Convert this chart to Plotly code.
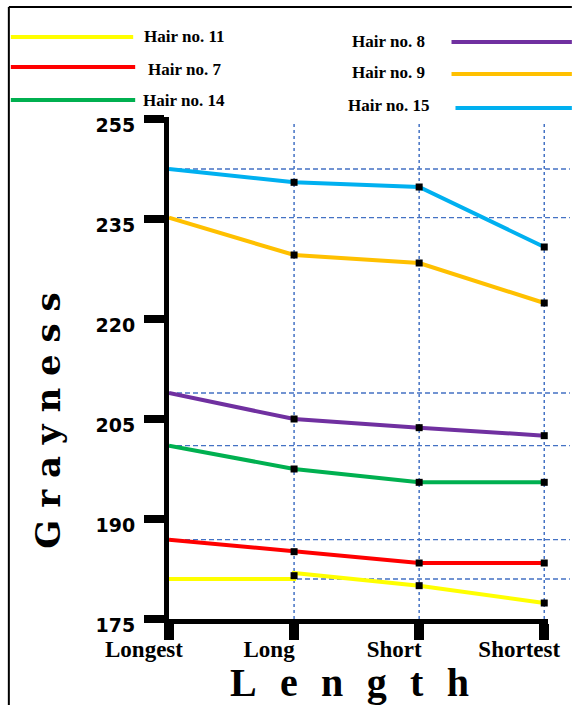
import plotly.graph_objects as go

# ---- data ----
lengths = ["Longest", "Long", "Short", "Shortest"]
x_pos = [0, 1, 2, 3]

hair_11 = [181.0, 181.0, 181.9, 180.0, 177.4]   # small step at "Long"
hair_11_x = [0, 1, 1, 2, 3]
hair_7 = [186.9, 185.1, 183.4, 183.4]
hair_14 = [201.0, 197.5, 195.5, 195.5]
hair_8 = [208.9, 205.0, 203.7, 202.5]
hair_9 = [235.2, 229.6, 228.4, 222.4]
hair_15 = [242.5, 240.5, 239.8, 230.8]

marker_11 = [181.0, 181.5, 180.0, 177.4]

ytick_vals = [175, 190, 205, 220, 235, 250]
ytick_text = ["175", "190", "205", "220", "235", "255"]

names = ["Hair no. 11", "Hair no. 7", "Hair no. 14", "Hair no. 8", "Hair no. 9", "Hair no. 15"]
colors = ["#FFFF00", "#FF0000", "#00B050", "#7030A0", "#FFC000", "#00B0F0"]

# ---- layout geometry (pixels) ----
W, H = 572, 705
L, R, T, B = 169, 22, 117, 86
PW, PH = W - L - R, H - T - B


def px(x):
    return (x - L) / PW


def py(y):
    return (H - B - y) / PH


fig = go.Figure()

series = [
    (hair_11_x, hair_11),
    (x_pos, hair_7),
    (x_pos, hair_14),
    (x_pos, hair_8),
    (x_pos, hair_9),
    (x_pos, hair_15),
]

for (xs, ys), name, col in zip(series, names, colors):
    fig.add_trace(go.Scatter(x=xs, y=ys, mode="lines", name=name,
                             line=dict(color=col, width=4), showlegend=False))

marker_sets = [marker_11, hair_7, hair_14, hair_8, hair_9, hair_15]
for ys in marker_sets:
    fig.add_trace(go.Scatter(x=x_pos[1:], y=ys[1:], mode="markers", showlegend=False,
                             marker=dict(symbol="square", size=7, color="black"),
                             cliponaxis=False))

grid_col = "#4472C4"
shapes = []
# horizontal dashed gridlines at the starting values
for (xs, ys) in series:
    shapes.append(dict(type="line", xref="paper", yref="y", x0=0, x1=px(W), y0=ys[0], y1=ys[0],
                       line=dict(color=grid_col, width=1.3, dash="5px,3px"), layer="below"))
# vertical dashed gridlines at categories
for xv in x_pos[1:]:
    shapes.append(dict(type="line", xref="x", yref="paper", x0=xv, x1=xv, y0=0, y1=py(122),
                       line=dict(color=grid_col, width=1.5, dash="3px,3px"), layer="below"))
# frame
shapes.append(dict(type="line", xref="paper", yref="paper", x0=px(8), x1=px(W + 2), y0=py(7), y1=py(7),
                   line=dict(color="black", width=2)))
shapes.append(dict(type="line", xref="paper", yref="paper", x0=px(8), x1=px(8), y0=py(7), y1=py(H + 2),
                   line=dict(color="black", width=2)))

# legend (custom)
leg_lines = [(10, 133, 37), (10, 135, 67), (10, 135, 100), (453, W + 2, 42), (453, W + 2, 74), (457, W + 2, 108)]
leg_text = [(142, 37, "left"), (146, 69, "left"), (141, 100, "left"),
            (390, 42, "center"), (390, 72, "center"), (390, 105, "center")]
annotations = []
for (x0, x1, yy), (tx, ty, anc), name, col in zip(leg_lines, leg_text, names, colors):
    shapes.append(dict(type="line", xref="paper", yref="paper", x0=px(x0), x1=px(x1), y0=py(yy), y1=py(yy),
                       line=dict(color=col, width=4)))
    annotations.append(dict(xref="paper", yref="paper", x=px(tx), y=py(ty), text=name, showarrow=False,
                            xanchor=anc, yanchor="middle",
                            font=dict(family="Liberation Serif", size=17, color="black", weight="bold")))

# axis titles
gap_x = "\u00a0\u00a0\u200a"
annotations.append(dict(xref="paper", yref="paper", x=px(350), y=py(682),
                        text=gap_x.join("Length"),
                        showarrow=False, xanchor="center", yanchor="middle",
                        font=dict(family="Liberation Serif", size=40, color="black", weight="bold")))
gap_y = "\u00a0"
annotations.append(dict(xref="paper", yref="paper", x=px(47), y=py(421),
                        text=gap_y.join("Grayness"),
                        textangle=-90, showarrow=False, xanchor="center", yanchor="middle",
                        font=dict(family="DejaVu Serif", size=34, color="black", weight="bold")))

fig.update_layout(
    width=W, height=H,
    margin=dict(l=L, r=R, t=T, b=B, pad=0),
    plot_bgcolor="white", paper_bgcolor="white",
    shapes=shapes, annotations=annotations,
    xaxis=dict(range=[0, 3.03], tickvals=x_pos, ticktext=lengths, showgrid=False, zeroline=False,
               showline=True, linecolor="black", linewidth=5,
               ticks="outside", ticklen=16, tickwidth=10, tickcolor="black",
               ticklabelshift=-25, ticklabelstandoff=-11,
               tickfont=dict(family="Liberation Serif", size=23, color="black", weight="bold")),
    yaxis=dict(range=[175, 250.3], tickvals=ytick_vals, ticktext=ytick_text, showgrid=False, zeroline=False,
               showline=True, linecolor="black", linewidth=5,
               ticks="outside", ticklen=20, tickwidth=8, tickcolor="black",
               ticklabelshift=6, ticklabelstandoff=5,
               tickfont=dict(family="DejaVu Sans", size=19, color="black", weight="bold")),
)

fig.write_html("out.html", config={"displayModeBar": False},
               post_script="document.body.style.margin='0px';")
